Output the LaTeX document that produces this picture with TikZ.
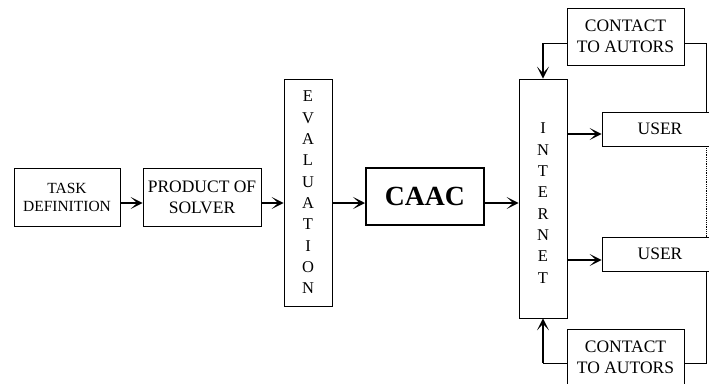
\documentclass[tikz,border=0pt]{standalone}
\usepackage{fontspec}
\setmainfont{Liberation Serif}
\usetikzlibrary{arrows.meta}
\tikzset{
  box/.style={draw, line width=0.75pt, inner sep=0pt, align=center},
  conn/.style={line width=1.5pt, -{Stealth[length=12pt,width=12pt,inset=6.5pt]}},
  uline/.style={line width=0.9pt},
  txt/.style={font=\fontsize{17.5}{21}\selectfont},
  vtxt/.style={font=\fontsize{16.5}{21.35}\selectfont},
}
\begin{document}
\begin{tikzpicture}[x=1pt,y=-1pt]
\useasboundingbox (0,0) rectangle (709,383);
% nodes
\node[box, minimum width=106pt, minimum height=58pt, font=\fontsize{15.5}{18}\selectfont] (task) at (67,197) {TASK\\DEFINITION};
\node[box, txt, minimum width=118pt, minimum height=58pt] (prod) at (202,197) {PRODUCT OF\\SOLVER};
\node[box, vtxt, minimum width=48pt, minimum height=227pt] (eval) at (308,192.5) {E\\V\\A\\L\\U\\A\\T\\I\\O\\N};
\node[box, line width=2pt, minimum width=118pt, minimum height=57pt, font=\fontsize{27.7}{30}\selectfont\bfseries] (caac) at (425,196.5) {CAAC};
\node[box, minimum width=48pt, minimum height=239pt] (inet) at (543,198.5) {};
\node[vtxt, align=center, inner sep=0pt] (inettxt) at (543,203) {I\\N\\T\\E\\R\\N\\E\\T};
\node[box, txt, minimum width=117pt, minimum height=57pt] (ct) at (625.5,36.5) {CONTACT\\TO AUTORS};
\node[box, txt, minimum width=117pt, minimum height=57pt] (cb) at (625.5,357.5) {CONTACT\\TO AUTORS};
\node[box, txt, minimum width=116pt, minimum height=34pt] (ut) at (660,129) {USER};
\node[box, txt, minimum width=116pt, minimum height=34pt] (ub) at (660,254) {USER};
% helper coordinates
\coordinate (m) at (0,203);
\coordinate (m1) at (0,134);
\coordinate (m2) at (0,260);
\coordinate (rt) at (706.5,43);
\coordinate (rb) at (706.5,363);
% main chain
\draw[conn] (task.east |- m) -- (prod.west |- m);
\draw[conn] (prod.east |- m) -- (eval.west |- m);
\draw[conn] (eval.east |- m) -- (caac.west |- m);
\draw[conn] (caac.east |- m) -- (inet.west |- m);
\draw[conn] (inet.east |- m1) -- (ut.west |- m1);
\draw[conn] (inet.east |- m2) -- (ub.west |- m2);
% contacts
\draw[uline] (ct.west |- rt) -- (inet.north |- rt);
\draw[conn] (inet.north |- rt) -- (inet.north);
\draw[uline] (cb.west |- rb) -- (inet.south |- rb);
\draw[conn] (inet.south |- rb) -- (inet.south);
\draw[uline] (ct.east |- rt) -- (rt) -- (rt |- ut.north);
\draw[line width=1.3pt, dash pattern=on 1pt off 0.8pt] (rt |- ut.south) -- (rt |- ub.north);
\draw[uline] (cb.east |- rb) -- (rb) -- (rb |- ub.south);
\end{tikzpicture}
\end{document}
